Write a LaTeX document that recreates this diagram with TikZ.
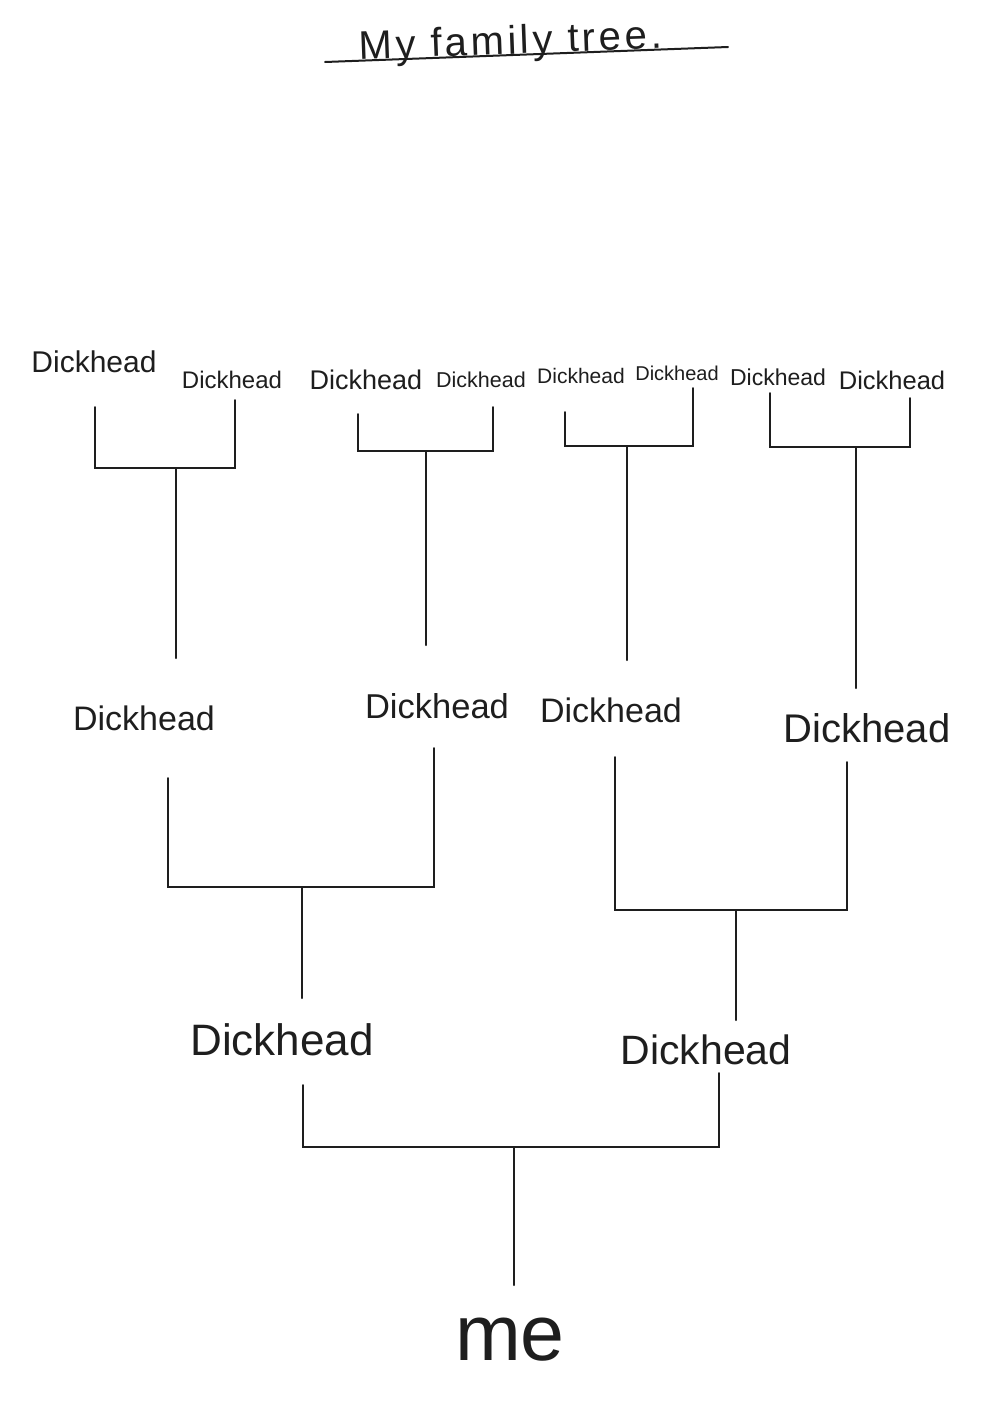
\documentclass[tikz,border=0pt]{standalone}
\usepackage{fontspec}
\setmainfont{Liberation Sans}
\definecolor{ink}{HTML}{1E1E1E}
\newcommand{\fs}[1]{\fontsize{#1}{#1}\selectfont}
\begin{document}
\begin{tikzpicture}[x=1pt,y=-1pt,
  lbl/.style={inner sep=0pt,text=ink,anchor=center},
  link/.style={draw=ink,line width=2pt,line cap=round,line join=miter}]
\useasboundingbox[fill=white] (0,0) rectangle (992,1403);

% title
\node[lbl,anchor=base,rotate=2.1,font={\fs{40}\addfontfeature{LetterSpace=9}}] (title) at (511,54) {My family tree.};
\coordinate (ulL) at (325,62);
\coordinate (ulR) at (728,47);
\draw[link] (ulL) -- (ulR);

% top row (great-grandparents)
\node[lbl,font=\fs{30}] (g1) at (94,362) {Dickhead};
\node[lbl,font=\fs{24}] (g2) at (232,380) {Dickhead};
\node[lbl,font=\fs{27}] (g3) at (366,380) {Dickhead};
\node[lbl,font=\fs{21.5}] (g4) at (481,380) {Dickhead};
\node[lbl,font=\fs{21}] (g5) at (581,376) {Dickhead};
\node[lbl,font=\fs{20}] (g6) at (677,373) {Dickhead};
\node[lbl,font=\fs{23}] (g7) at (778,377) {Dickhead};
\node[lbl,font=\fs{25.5}] (g8) at (892,380) {Dickhead};

% middle row (grandparents)
\node[lbl,font=\fs{34}] (p1) at (144,718) {Dickhead};
\node[lbl,font=\fs{34.5}] (p2) at (437,706) {Dickhead};
\node[lbl,font=\fs{34}] (p3) at (611,710) {Dickhead};
\node[lbl,font=\fs{40}] (p4) at (867,728) {Dickhead};

% lower row (parents)
\node[lbl,font=\fs{44}] (q1) at (282,1040) {Dickhead};
\node[lbl,font=\fs{41}] (q2) at (706,1050) {Dickhead};

% me
\node[lbl,font=\fs{79}] (me) at (510,1340) {me};

% bracket coordinates
\coordinate (a1) at (95,407);  \coordinate (b1) at (235,400);
\coordinate (j1) at (176,468); \coordinate (s1) at (176,658);
\coordinate (a2) at (358,414); \coordinate (b2) at (493,407);
\coordinate (j2) at (426,451); \coordinate (s2) at (426,645);
\coordinate (a3) at (565,412); \coordinate (b3) at (693,388);
\coordinate (j3) at (627,446); \coordinate (s3) at (627,660);
\coordinate (a4) at (770,393); \coordinate (b4) at (910,398);
\coordinate (j4) at (856,447); \coordinate (s4) at (856,688);

\coordinate (a5) at (168,778); \coordinate (b5) at (434,748);
\coordinate (j5) at (302,887); \coordinate (s5) at (302,998);
\coordinate (a6) at (615,757); \coordinate (b6) at (847,762);
\coordinate (j6) at (736,910); \coordinate (s6) at (736,1020);

\coordinate (a7) at (303,1085); \coordinate (b7) at (719,1073);
\coordinate (j7) at (514,1147); \coordinate (s7) at (514,1285);

\foreach \i in {1,...,7}{
  \draw[link] (a\i) |- (j\i) -| (b\i);
  \draw[link] (j\i) -- (s\i);
}
\end{tikzpicture}
\end{document}
